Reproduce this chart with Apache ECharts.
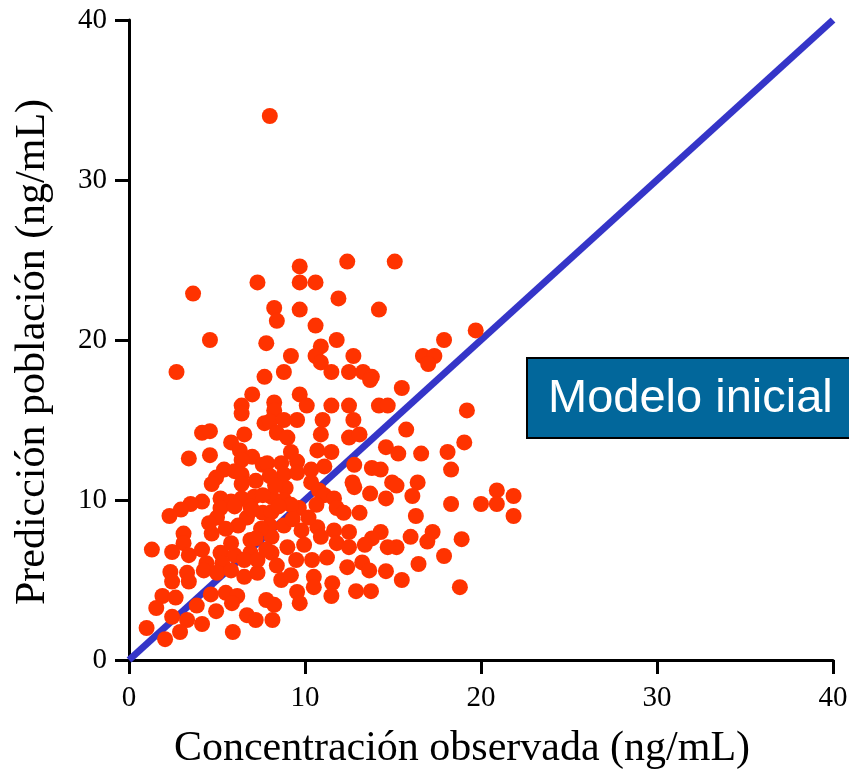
<!DOCTYPE html>
<html>
<head>
<meta charset="utf-8">
<script src="https://cdn.jsdelivr.net/npm/echarts@6/dist/echarts.min.js"></script>
<style>
  html, body { margin: 0; padding: 0; background: #fff; }
  #chart { width: 849px; height: 777px; }
</style>
</head>
<body>
<div id="chart"></div>
<script>
// observed concentration (x) and population prediction (y), ng/mL
const observed = [
  8.0, 3.64, 7.3, 9.7, 9.7, 10.6, 12.4, 15.1, 11.9, 8.25, 9.7, 14.2, 8.4, 10.6, 7.8, 11.8, 10.9, 10.6, 12.75, 9.2,
  10.9, 8.8, 11.5, 12.5, 13.3, 13.8, 4.6, 2.7, 7.7, 19.7, 17.9, 16.7, 17.35, 17.0, 7.0, 6.4, 6.4, 7.7, 4.15, 4.6,
  6.55, 5.8, 6.3, 3.4, 4.6, 7.0, 6.4, 7.6, 5.4, 6.0, 6.4, 4.95, 4.7, 6.4, 4.15, 3.5, 2.95, 2.3, 5.2, 5.8,
  6.4, 7.1, 5.2, 6.0, 6.9, 5.0, 6.7, 7.6, 9.7, 10.1, 8.25, 11.5, 12.5, 14.2, 14.7, 13.7, 8.25, 8.0, 8.8, 9.55,
  11.0, 12.75, 8.4, 9.0, 10.9, 12.5, 13.1, 9.2, 10.7, 11.5, 14.6, 7.85, 8.65, 9.55, 10.35, 11.1, 12.8, 13.8, 14.3, 8.8,
  9.55, 8.0, 10.35, 8.9, 12.7, 12.8, 14.95, 10.8, 11.1, 13.7, 14.6, 8.1, 8.8, 9.65, 11.65, 10.65, 11.8, 12.2, 13.1, 8.1,
  9.2, 15.5, 19.2, 15.75, 19.05, 15.3, 16.6, 18.1, 18.3, 15.2, 16.4, 16.1, 18.3, 20.0, 20.9, 20.9, 21.85, 21.85, 16.3, 17.25,
  16.0, 16.95, 18.9, 15.2, 17.9, 16.45, 15.5, 18.8, 8.0, 8.8, 9.8, 10.7, 11.65, 12.5, 14.3, 13.8, 13.4, 14.7, 8.1, 9.0,
  9.95, 10.9, 11.8, 12.5, 8.1, 9.5, 10.4, 11.25, 12.4, 13.25, 13.65, 14.6, 8.4, 8.65, 9.2, 10.5, 10.5, 11.55, 11.5, 9.55,
  9.7, 12.9, 13.75, 7.8, 8.25, 8.15, 3.1, 3.1, 1.3, 2.45, 3.4, 4.15, 4.7, 4.55, 5.2, 6.0, 6.9, 4.4, 5.3, 2.35,
  3.3, 2.45, 3.4, 4.25, 5.0, 5.8, 6.55, 7.3, 1.9, 2.65, 4.65, 5.5, 6.15, 1.55, 3.85, 4.95, 5.85, 6.7, 7.2, 2.45,
  3.3, 4.15, 1.0, 2.9, 2.05, 5.9, 6.9, 6.55, 7.3, 5.8, 7.5, 7.2, 7.8, 6.2, 7.0, 8.5, 9.3, 10.2, 5.5, 7.6,
  7.2, 8.3
];
const predicted = [
  34.0, 22.9, 23.6, 24.6, 23.6, 23.6, 24.9, 24.9, 22.6, 22.0, 21.9, 21.9, 21.2, 20.9, 19.8, 20.0, 19.6, 19.0, 19.0, 19.0,
  18.6, 18.0, 18.0, 18.0, 18.0, 17.7, 20.0, 18.0, 17.7, 20.6, 20.0, 19.0, 19.0, 18.5, 16.6, 15.9, 15.4, 14.8, 14.2, 14.3,
  14.1, 13.6, 13.1, 12.6, 12.8, 12.7, 12.5, 12.2, 11.9, 11.8, 11.6, 11.4, 11.0, 11.0, 9.9, 9.75, 9.4, 9.0, 10.1, 9.9,
  10.1, 10.2, 9.5, 9.6, 9.6, 8.9, 8.9, 9.2, 16.6, 15.9, 16.1, 15.9, 15.9, 15.9, 15.9, 17.5, 15.6, 14.9, 15.0, 15.0,
  15.0, 15.0, 14.2, 13.9, 14.1, 13.9, 14.1, 13.0, 13.1, 13.0, 13.3, 12.3, 12.3, 12.4, 11.9, 12.1, 12.2, 12.0, 11.9, 11.6,
  11.7, 11.5, 11.1, 10.75, 11.1, 10.8, 11.1, 10.6, 10.3, 10.4, 10.1, 10.2, 10.0, 9.5, 10.1, 9.7, 9.5, 9.2, 9.2, 9.25,
  9.7, 17.0, 15.6, 14.4, 13.6, 12.9, 12.9, 13.0, 11.9, 10.9, 11.1, 10.25, 9.75, 9.75, 10.6, 9.75, 10.25, 9.0, 9.0, 8.0,
  7.7, 7.4, 7.55, 7.05, 6.5, 6.0, 5.0, 4.55, 8.4, 8.4, 8.1, 8.3, 8.1, 8.0, 8.0, 7.6, 7.2, 7.05, 7.7, 7.05,
  7.2, 7.7, 7.3, 7.05, 6.7, 6.25, 6.25, 6.4, 5.8, 6.1, 5.6, 5.55, 5.9, 5.0, 5.3, 5.2, 4.55, 4.8, 4.0, 4.25,
  3.55, 4.3, 4.3, 3.75, 3.45, 2.5, 7.9, 7.3, 6.9, 6.75, 6.55, 6.9, 7.9, 8.55, 6.7, 6.55, 6.7, 6.05, 6.05, 5.5,
  5.45, 4.9, 4.9, 5.6, 5.45, 5.6, 5.2, 5.45, 4.0, 3.9, 4.1, 4.2, 4.0, 3.25, 3.4, 3.05, 3.55, 2.8, 2.5, 2.7,
  2.5, 2.25, 2.0, 1.75, 1.3, 1.75, 7.5, 6.25, 6.25, 7.3, 8.2, 7.6, 6.9, 8.4, 9.4, 9.6, 8.8, 8.9, 8.2, 10.3,
  11.2, 10.9
];
const identityLine = [[0, 0], [40, 40]];
const axisTicks = [0, 10, 20, 30, 40];
const boxLabel = "Modelo inicial";

const points = observed.map((x, i) => [x, predicted[i]]);

const chart = echarts.init(document.getElementById("chart"), null, { renderer: "canvas" });

const serif = "'Liberation Serif', 'Times New Roman', serif";

const axisCommon = {
  type: "value",
  min: axisTicks[0],
  max: axisTicks[axisTicks.length - 1],
  interval: 10,
  splitLine: { show: false },
  axisLine: { show: true, lineStyle: { color: "#000", width: 3 } },
  axisTick: { show: true, inside: false, length: 14, lineStyle: { color: "#000", width: 3 } },
  axisLabel: { color: "#000", fontFamily: serif, fontSize: 29 },
  nameLocation: "middle",
};

const option = {
  animation: false,
  backgroundColor: "#fff",
  grid: { left: 129, right: 16, top: 20, bottom: 117, outerBoundsMode: "none", containLabel: false },
  xAxis: {
    ...axisCommon,
    name: "Concentración observada (ng/mL)",
    nameGap: 68,
    // the title sits a little left of the plot centre
    nameTextStyle: { color: "#000", fontFamily: serif, fontSize: 42, padding: [0, 38, 0, 0] },
    axisLabel: { ...axisCommon.axisLabel, margin: 24 },
  },
  yAxis: {
    ...axisCommon,
    name: "Predicción población (ng/mL)",
    nameGap: 75,
    nameTextStyle: { color: "#000", fontFamily: serif, fontSize: 42, padding: [0, 24, 0, 0] },
    axisLabel: { ...axisCommon.axisLabel, margin: 22 },
  },
  series: [
    {
      name: "Identidad",
      type: "line",
      data: identityLine,
      showSymbol: false,
      lineStyle: { color: "#3535c8", width: 7 },
      silent: true,
      z: 1,
    },
    {
      name: "Observaciones",
      type: "scatter",
      data: points,
      symbolSize: 16,
      itemStyle: { color: "#ff3300", opacity: 1 },
      z: 2,
    },
  ],
  graphic: [
    {
      type: "group",
      left: 526,
      top: 357,
      children: [
        {
          type: "rect",
          shape: { x: 0, y: 0, width: 330, height: 80 },
          style: { fill: "#02679b", stroke: "#000", lineWidth: 2 },
        },
        {
          type: "text",
          x: 21,
          y: 41,
          style: {
            text: boxLabel,
            fill: "#fff",
            font: "47px 'Liberation Sans', Arial, sans-serif",
            verticalAlign: "middle",
            textAlign: "left",
          },
        },
      ],
    },
  ],
};

chart.setOption(option);
</script>
</body>
</html>
